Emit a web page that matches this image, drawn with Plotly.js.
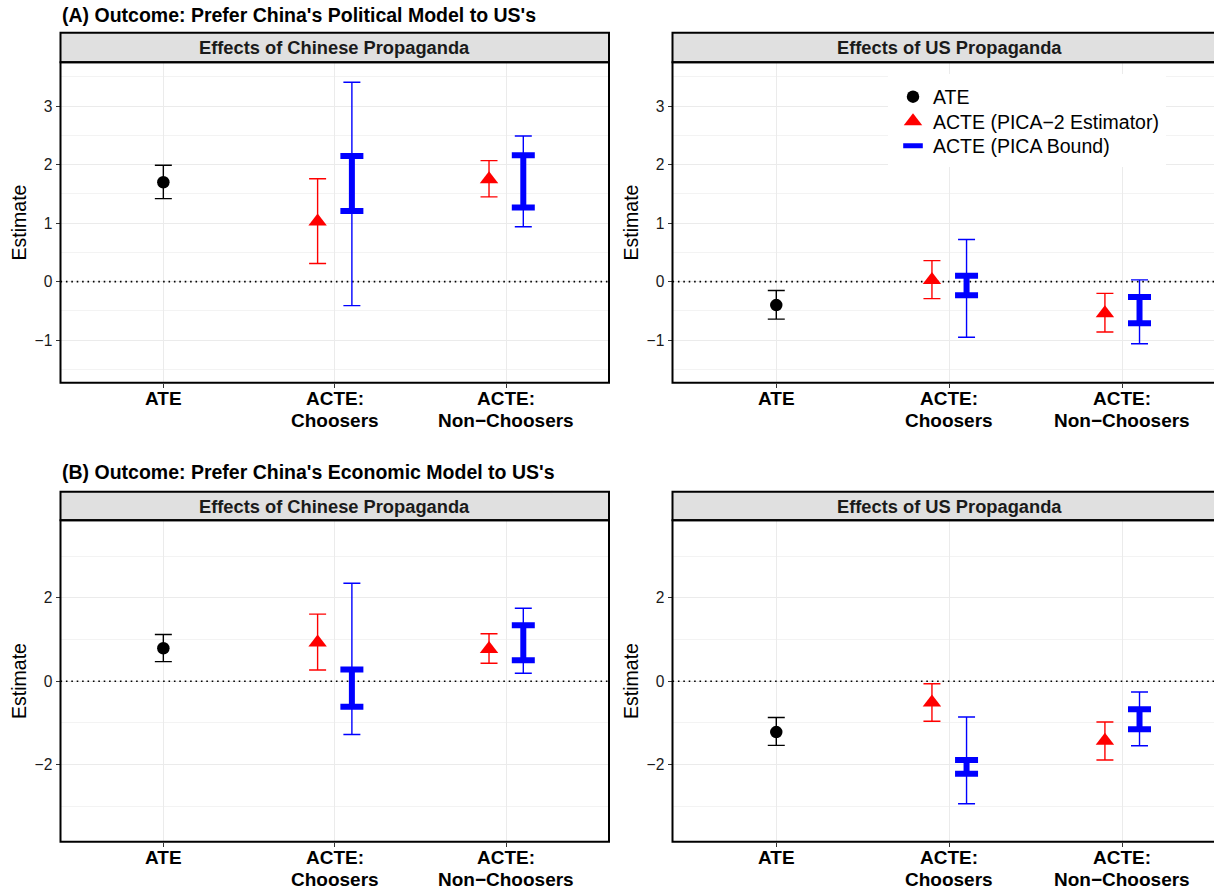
<!DOCTYPE html>
<html>
<head>
<meta charset="utf-8">
<script src="https://cdn.plot.ly/plotly-3.0.1.min.js"></script>
<style>
  html, body { margin: 0; padding: 0; background: #ffffff; overflow: hidden; }
  #chart { width: 1214px; height: 891px; }
</style>
</head>
<body>
<div id="chart"></div>
<script>
// ---------------- DATA ----------------
const categories = ['ATE', 'ACTE:<br>Choosers', 'ACTE:<br>Non\u2212Choosers'];
const rowTitles = ["(A) Outcome: Prefer China's Political Model to US's",
                   "(B) Outcome: Prefer China's Economic Model to US's"];
const stripTitles = ['Effects of Chinese Propaganda', 'Effects of US Propaganda'];
const legendNames = ['ATE', 'ACTE (PICA\u22122 Estimator)', 'ACTE (PICA Bound)'];

// [estimate, lower, upper]
const polCN_ate = [1.70, 1.42, 1.99];
const polUS_ate = [-0.40, -0.64, -0.15];
const ecoCN_ate = [0.79, 0.47, 1.12];
const ecoUS_ate = [-1.22, -1.54, -0.87];

// PICA-2 estimator: [estimate, lower, upper] for Choosers, Non-Choosers
const polCN_pica2 = [[1.03, 0.31, 1.76], [1.75, 1.45, 2.07]];
const polUS_pica2 = [[0.03, -0.29, 0.36], [-0.54, -0.86, -0.20]];
const ecoCN_pica2 = [[0.93, 0.27, 1.61], [0.77, 0.43, 1.14]];
const ecoUS_pica2 = [[-0.51, -0.96, -0.06], [-1.43, -1.89, -0.98]];

// PICA bound confidence interval: [lower, upper] for Choosers, Non-Choosers
const polCN_ci = [[-0.41, 3.41], [0.94, 2.49]];
const polUS_ci = [[-0.95, 0.72], [-1.06, 0.03]];
const ecoCN_ci = [[-1.28, 2.35], [0.19, 1.75]];
const ecoUS_ci = [[-2.94, -0.86], [-1.55, -0.26]];

// PICA bounds: [lower, upper] for Choosers, Non-Choosers
const polCN_bound = [[1.21, 2.15], [1.27, 2.16]];
const polUS_bound = [[-0.23, 0.10], [-0.71, -0.26]];
const ecoCN_bound = [[-0.61, 0.28], [0.50, 1.34]];
const ecoUS_bound = [[-2.22, -1.89], [-1.15, -0.67]];

// reference line value
const refLine = 0;

// ---------------- STYLE / LAYOUT ----------------
const W = 1214, H = 891;
const FONT = 'Liberation Sans, Arial, Helvetica, sans-serif';
const dodge = 0.1;
const catIdx = categories.map((c, i) => i);
const xPad = 0.6;

const colL = [60.5, 609], colR = [672.5, 1226];
const rowA = { strip: [32.7, 62.3], plot: [62.3, 382.7], title: 15.5 };
const rowB = { strip: [491.7, 520.3], plot: [520.3, 841.7], title: 472 };

const px = v => v / W;
const py = v => 1 - v / H;

function panelTraces(ate, pica2, ci, bound, xa, ya) {
  const t = [];
  const thinW = 1.4;
  // dotted reference line at zero, spanning the discrete axis range
  t.push({
    type: 'scatter', mode: 'lines', xaxis: xa, yaxis: ya, showlegend: false, hoverinfo: 'skip',
    x: [catIdx[0] - xPad, catIdx[catIdx.length - 1] + xPad], y: [refLine, refLine],
    line: { color: '#000000', width: 1.6, dash: '1.6px,3.8px' }
  });
  t.push({
    type: 'scatter', mode: 'markers', xaxis: xa, yaxis: ya, showlegend: false, hoverinfo: 'skip',
    x: [catIdx[0]], y: [ate[0]],
    marker: { symbol: 'circle', size: 12.5, color: '#000000' },
    error_y: { type: 'data', symmetric: false, array: [ate[2] - ate[0]], arrayminus: [ate[0] - ate[1]],
               color: '#000000', thickness: thinW, width: 8.5 }
  });
  t.push({
    type: 'scatter', mode: 'markers', xaxis: xa, yaxis: ya, showlegend: false, hoverinfo: 'skip',
    x: [catIdx[1] + dodge, catIdx[2] + dodge], y: ci.map(r => (r[0] + r[1]) / 2),
    marker: { size: 1, color: 'rgba(0,0,0,0)' },
    error_y: { type: 'data', symmetric: true, array: ci.map(r => (r[1] - r[0]) / 2),
               color: '#0000FF', thickness: thinW, width: 8.5 }
  });
  t.push({
    type: 'scatter', mode: 'markers', xaxis: xa, yaxis: ya, showlegend: false, hoverinfo: 'skip',
    x: [catIdx[1] + dodge, catIdx[2] + dodge], y: bound.map(r => (r[0] + r[1]) / 2),
    marker: { size: 1, color: 'rgba(0,0,0,0)' },
    error_y: { type: 'data', symmetric: true, array: bound.map(r => (r[1] - r[0]) / 2),
               color: '#0000FF', thickness: 6, width: 11.5 }
  });
  t.push({
    type: 'scatter', mode: 'markers', xaxis: xa, yaxis: ya, showlegend: false, hoverinfo: 'skip',
    x: [catIdx[1] - dodge, catIdx[2] - dodge], y: pica2.map(r => r[0]),
    marker: { symbol: 'triangle-up', size: 16, color: '#FF0000' },
    error_y: { type: 'data', symmetric: false, array: pica2.map(r => r[2] - r[0]),
               arrayminus: pica2.map(r => r[0] - r[1]), color: '#FF0000', thickness: thinW, width: 8.5 }
  });
  return t;
}

const traces = [].concat(
  panelTraces(polCN_ate, polCN_pica2, polCN_ci, polCN_bound, 'x', 'y'),
  panelTraces(polUS_ate, polUS_pica2, polUS_ci, polUS_bound, 'x2', 'y2'),
  panelTraces(ecoCN_ate, ecoCN_pica2, ecoCN_ci, ecoCN_bound, 'x3', 'y3'),
  panelTraces(ecoUS_ate, ecoUS_pica2, ecoUS_ci, ecoUS_bound, 'x4', 'y4')
);

// legend entries (legend-only traces, no data), one legend per entry for exact spacing
traces.push({ type: 'scatter', mode: 'markers', x: [null], y: [null], xaxis: 'x2', yaxis: 'y2', legend: 'legend',
  name: legendNames[0], marker: { symbol: 'circle', size: 12.5, color: '#000000' } });
traces.push({ type: 'scatter', mode: 'markers', x: [null], y: [null], xaxis: 'x2', yaxis: 'y2', legend: 'legend2',
  name: legendNames[1], marker: { symbol: 'triangle-up', size: 16, color: '#FF0000' } });
traces.push({ type: 'scatter', mode: 'markers', x: [null], y: [null], xaxis: 'x2', yaxis: 'y2', legend: 'legend3',
  name: legendNames[2], marker: { symbol: 'line-ew', size: 14, color: '#0000FF', line: { color: '#0000FF', width: 6 } } });

function xaxisDef(col, anchor) {
  const spanPx = col[1] - col[0];
  const visEnd = Math.min(col[1], W);
  const unit = spanPx / (catIdx.length - 1 + 2 * xPad);
  return {
    domain: [px(col[0]), px(visEnd)],
    range: [-xPad, -xPad + (visEnd - col[0]) / unit],
    anchor: anchor,
    tickmode: 'array', tickvals: catIdx, ticktext: categories, showticklabels: false,
    ticks: 'outside', ticklen: 4, tickwidth: 1, tickcolor: '#333333',
    showgrid: true, gridcolor: '#EBEBEB', gridwidth: 1.1,
    zeroline: false, showline: false, fixedrange: true
  };
}
function yaxisDef(row, anchor, range, dtick) {
  return {
    domain: [py(row.plot[1]), py(row.plot[0])],
    range: range, anchor: anchor,
    tickmode: 'linear', tick0: 0, dtick: dtick,
    tickfont: { family: FONT, size: 15.6, color: '#1a1a1a' },
    ticks: 'outside', ticklen: 4, tickwidth: 1, tickcolor: '#333333',
    showgrid: true, gridcolor: '#EBEBEB', gridwidth: 1.1,
    minor: { dtick: dtick / 2, tick0: 0, showgrid: true, gridcolor: '#EBEBEB', gridwidth: 0.6, ticks: '' },
    zeroline: false, showline: false, fixedrange: true,
    title: { text: 'Estimate', font: { family: FONT, size: 19.5, color: '#000000' }, standoff: 2 }
  };
}

const rangeA = [-1.727, 3.75];
const rangeB = [-3.85, 3.86];

const shapes = [];
const annotations = [];
const panels = [[rowA, colL], [rowA, colR], [rowB, colL], [rowB, colR]];
panels.forEach(([row, col], i) => {
  const n = i === 0 ? '' : String(i + 1);
  // strip
  shapes.push({ type: 'rect', xref: 'paper', yref: 'paper', layer: 'above',
    x0: px(col[0]), x1: px(col[1]), y0: py(row.strip[1]), y1: py(row.strip[0]),
    fillcolor: '#E0E0E0', line: { color: '#000000', width: 2 } });
  // panel border
  shapes.push({ type: 'rect', xref: 'paper', yref: 'paper', layer: 'above',
    x0: px(col[0]), x1: px(col[1]), y0: py(row.plot[1]), y1: py(row.plot[0]),
    fillcolor: 'rgba(0,0,0,0)', line: { color: '#000000', width: 2 } });
  // strip title
  annotations.push({ xref: 'paper', yref: 'paper', x: px((col[0] + col[1]) / 2), y: py((row.strip[0] + row.strip[1]) / 2),
    xanchor: 'center', yanchor: 'middle', showarrow: false,
    text: stripTitles[i % 2], font: { family: FONT, size: 18.3, color: '#1a1a1a', weight: 'bold' } });
  // x tick labels (one annotation per line for the tighter line spacing)
  categories.forEach((c, k) => {
    c.split('<br>').forEach((line, j) => {
      annotations.push({ xref: 'x' + n, yref: 'paper', x: catIdx[k], y: py(row.plot[1] + 15.8 + 21.5 * j),
        xanchor: 'center', yanchor: 'middle', showarrow: false,
        text: line, font: { family: FONT, size: 19, color: '#000000', weight: 'bold' } });
    });
  });
});
[rowA, rowB].forEach((row, i) => {
  annotations.push({ xref: 'paper', yref: 'paper', x: px(60), y: py(row.title),
    xanchor: 'left', yanchor: 'middle', showarrow: false,
    text: rowTitles[i], font: { family: FONT, size: 19.5, color: '#000000', weight: 'bold' } });
});
// white legend background box
shapes.push({ type: 'rect', xref: 'paper', yref: 'paper', layer: 'above',
  x0: px(888), x1: px(1166), y0: py(167), y1: py(74),
  fillcolor: '#ffffff', line: { width: 0 } });

const legendBase = { x: px(893), xanchor: 'left', yanchor: 'middle', bgcolor: 'rgba(0,0,0,0)',
  borderwidth: 0, font: { family: FONT, size: 19.5, color: '#000000' }, tracegroupgap: 0 };

const layout = {
  width: W, height: H,
  margin: { l: 0, r: 0, t: 0, b: 0, pad: 0 },
  paper_bgcolor: '#ffffff', plot_bgcolor: '#ffffff',
  font: { family: FONT, color: '#000000' },
  showlegend: true,
  legend: Object.assign({}, legendBase, { y: py(97) }),
  legend2: Object.assign({}, legendBase, { y: py(121.5) }),
  legend3: Object.assign({}, legendBase, { y: py(146) }),
  xaxis: xaxisDef(colL, 'y'),
  yaxis: yaxisDef(rowA, 'x', rangeA, 1),
  xaxis2: xaxisDef(colR, 'y2'),
  yaxis2: yaxisDef(rowA, 'x2', rangeA, 1),
  xaxis3: xaxisDef(colL, 'y3'),
  yaxis3: yaxisDef(rowB, 'x3', rangeB, 2),
  xaxis4: xaxisDef(colR, 'y4'),
  yaxis4: yaxisDef(rowB, 'x4', rangeB, 2),
  shapes: shapes,
  annotations: annotations
};

Plotly.newPlot('chart', traces, layout, { staticPlot: true, displayModeBar: false });
</script>
</body>
</html>
